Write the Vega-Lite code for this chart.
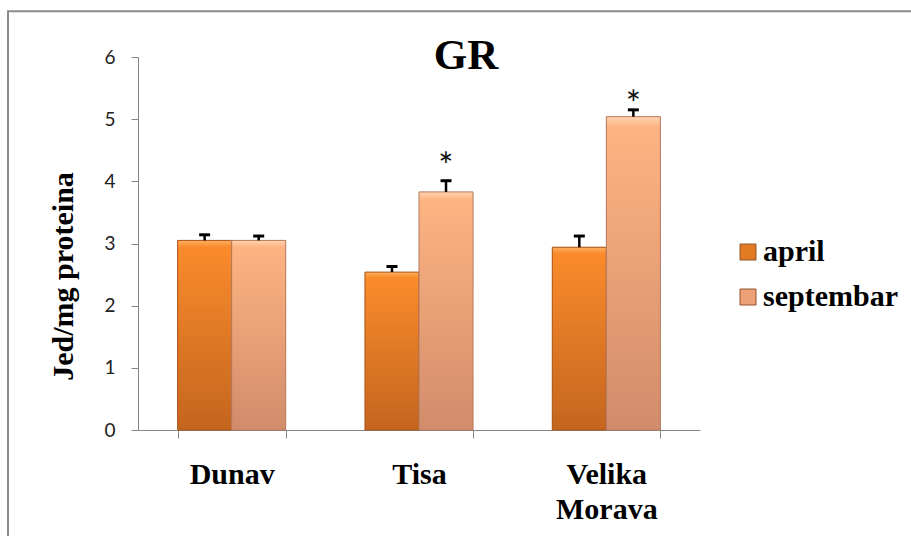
{
  "$schema": "https://vega.github.io/schema/vega-lite/v6.json",
  "width": 562,
  "height": 373,
  "autosize": {"type": "none"},
  "padding": {"left": 138, "top": 57, "right": 211, "bottom": 106},
  "background": "white",
  "config": {"view": {"stroke": null}},
  "title": {
    "text": "GR",
    "font": "Liberation Serif",
    "fontSize": 43,
    "fontWeight": "bold",
    "color": "black",
    "frame": "group",
    "anchor": "middle",
    "baseline": "alphabetic",
    "offset": 0,
    "dx": 47,
    "dy": 102
  },
  "datasets": {
    "bars": [
      {"reka": "Dunav", "mesec": "april", "vrednost": 3.05, "gornja": 3.14},
      {"reka": "Dunav", "mesec": "septembar", "vrednost": 3.05, "gornja": 3.12},
      {"reka": "Tisa", "mesec": "april", "vrednost": 2.54, "gornja": 2.63},
      {"reka": "Tisa", "mesec": "septembar", "vrednost": 3.83, "gornja": 4.01},
      {"reka": "Velika Morava", "mesec": "april", "vrednost": 2.94, "gornja": 3.12},
      {"reka": "Velika Morava", "mesec": "septembar", "vrednost": 5.04, "gornja": 5.15}
    ],
    "stars": [
      {"reka": "Tisa", "mesec": "septembar", "polozaj": 4.38, "oznaka": "*"},
      {"reka": "Velika Morava", "mesec": "septembar", "polozaj": 5.38, "oznaka": "*"}
    ]
  },
  "layer": [
    {
      "data": {"values": [{"okvir": 1}]},
      "mark": {"type": "rect", "fillOpacity": 0, "stroke": "#8c8c8c", "strokeWidth": 2},
      "encoding": {
        "x": {"datum": -0.2313, "type": "quantitative", "scale": {"domain": [0, 1]}, "axis": null},
        "x2": {"datum": 1.4},
        "y": {"datum": 6.737, "type": "quantitative", "scale": {"domain": [0, 6]}},
        "y2": {"datum": -1.9}
      }
    },
    {
      "data": {"name": "bars"},
      "encoding": {
        "x": {
          "field": "reka",
          "type": "nominal",
          "sort": ["Dunav", "Tisa", "Velika Morava"],
          "scale": {"domain": ["Dunav", "Tisa", "Velika Morava"], "paddingInner": 0.423, "paddingOuter": 0.2115},
          "axis": {
            "title": null,
            "domainColor": "#868686",
            "domainWidth": 1,
            "tickColor": "#868686",
            "tickSize": 8,
            "tickBand": "extent",
            "labelFont": "Liberation Serif",
            "labelFontWeight": "bold",
            "labelFontSize": 30,
            "labelColor": "black",
            "labelPadding": 21,
            "labelLineHeight": 35,
            "labelAngle": 0,
            "labelLimit": 0,
            "labelExpr": "split(datum.label, ' ')"
          }
        },
        "xOffset": {
          "field": "mesec",
          "type": "nominal",
          "scale": {"domain": ["april", "septembar"], "paddingInner": 0, "paddingOuter": 0}
        }
      },
      "layer": [
        {
          "mark": {"type": "bar"},
          "encoding": {
            "y": {
              "field": "vrednost",
              "type": "quantitative",
              "scale": {"domain": [0, 6], "nice": false},
              "axis": {
                "title": "Jed/mg proteina",
                "titleFont": "Liberation Serif",
                "titleFontWeight": "bold",
                "titleFontSize": 30,
                "titleColor": "black",
                "titleAngle": -90,
                "titleAlign": "center",
                "titleBaseline": "middle",
                "titleX": -75,
                "titleY": 219,
                "values": [0, 1, 2, 3, 4, 5, 6],
                "format": "d",
                "grid": false,
                "domainColor": "#868686",
                "tickColor": "#868686",
                "tickSize": 7,
                "labelFont": "Lato",
                "labelFontSize": 19,
                "labelColor": "#222222",
                "labelPadding": 16
              }
            },
            "color": {
              "field": "mesec",
              "type": "nominal",
              "scale": {"domain": ["april", "septembar"], "range": ["#E27B22", "#EEA176"]},
              "legend": {
                "title": null,
                "orient": "none",
                "legendX": 595,
                "legendY": 180,
                "padding": 0,
                "symbolType": "square",
                "symbolSize": 256,
                "symbolStrokeColor": "#8f5428",
                "symbolStrokeWidth": 1,
                "symbolOpacity": 1,
                "labelFont": "Liberation Serif",
                "labelFontWeight": "bold",
                "labelFontSize": 30,
                "labelColor": "black",
                "labelOffset": 0,
                "labelLimit": 0,
                "rowPadding": 15
              }
            }
          }
        },
        {
          "mark": {"type": "bar", "strokeWidth": 1},
          "encoding": {
            "y": {"field": "vrednost", "type": "quantitative"},
            "fill": {
              "condition": {
                "test": "datum.mesec === 'april'",
                "value": {
                  "gradient": "linear", "x1": 0, "y1": 0, "x2": 0, "y2": 1,
                  "stops": [
                    {"offset": 0, "color": "#FFB060"},
                    {"offset": 0.035, "color": "#FA8B2C"},
                    {"offset": 1, "color": "#C4651E"}
                  ]
                }
              },
              "value": {
                "gradient": "linear", "x1": 0, "y1": 0, "x2": 0, "y2": 1,
                "stops": [
                  {"offset": 0, "color": "#FFD2AE"},
                  {"offset": 0.035, "color": "#FEB382"},
                  {"offset": 1, "color": "#D18C6B"}
                ]
              }
            },
            "stroke": {
              "condition": {"test": "datum.mesec === 'april'", "value": "#A9571A"},
              "value": "#B57A5E"
            }
          }
        },
        {
          "mark": {"type": "rule", "strokeWidth": 2.5, "color": "black"},
          "encoding": {
            "y": {"field": "vrednost", "type": "quantitative"},
            "y2": {"field": "gornja"}
          }
        },
        {
          "mark": {"type": "tick", "thickness": 3, "size": 11, "color": "black", "opacity": 1},
          "encoding": {
            "y": {"field": "gornja", "type": "quantitative"}
          }
        },
        {
          "data": {"name": "stars"},
          "mark": {"type": "text", "font": "Lato", "fontSize": 36, "color": "#111111", "baseline": "middle", "align": "center", "dy": 10},
          "encoding": {
            "y": {"field": "polozaj", "type": "quantitative"},
            "text": {"field": "oznaka"}
          }
        }
      ]
    }
  ],
  "resolve": {"scale": {"x": "independent"}}
}
